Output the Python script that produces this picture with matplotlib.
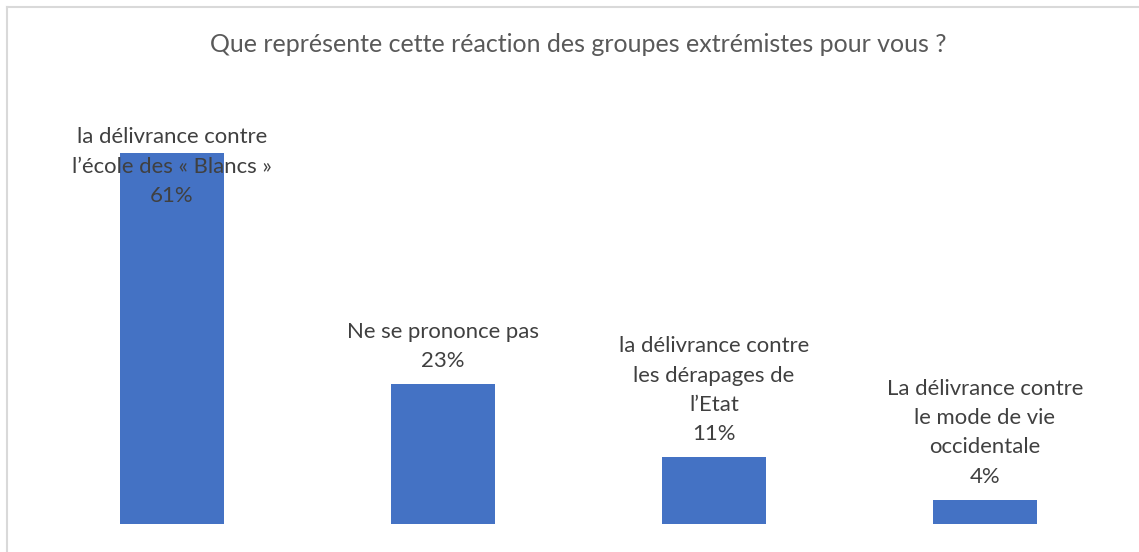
import matplotlib.pyplot as plt
from matplotlib.lines import Line2D

# chart data
title = "Que représente cette réaction des groupes extrémistes pour vous ?"
categories = [
    "la délivrance contre\nl\u2019école des « Blancs »",
    "Ne se prononce pas",
    "la délivrance contre\nles dérapages de\nl\u2019Etat",
    "La délivrance contre\nle mode de vie\noccidentale",
]
values = [61, 23, 11, 4]

plt.rcParams['font.family'] = ['Lato', 'DejaVu Sans']
text_color = '#404040'
bar_color = '#4472C4'

fig = plt.figure(figsize=(11.39, 5.52), dpi=100)
ax = fig.add_axes([36.5 / 1139, 28 / 552, 1084 / 1139, 425.6 / 552])

x = list(range(len(values)))
ax.bar(x, values, width=0.384, color=bar_color)
ax.set_xlim(-0.5, len(values) - 0.5)
ax.set_ylim(0, 70)
ax.axis('off')

# data labels: category + value above each bar (clamped when too tall)
label_cap = 50.2
for xi, v, cat in zip(x, values, categories):
    ax.annotate(f"{cat}\n{v}%", xy=(xi, min(v, label_cap)), xytext=(0, 13),
                textcoords='offset pixels', ha='center', va='bottom',
                fontsize=15.9, color=text_color, linespacing=1.58)

fig.text(578 / 1139, 1 - 45 / 552, title, ha='center', va='center',
         fontsize=18, color='#595959')

# chart frame (left and top edges visible)
fig.add_artist(Line2D([6.5 / 1139, 6.5 / 1139], [0, 1 - 6.5 / 552],
                      transform=fig.transFigure, color='#d9d9d9', lw=1.5))
fig.add_artist(Line2D([6.5 / 1139, 1], [1 - 6.5 / 552, 1 - 6.5 / 552],
                      transform=fig.transFigure, color='#d9d9d9', lw=1.5))

fig.savefig('out.png', dpi=100, facecolor='white')
